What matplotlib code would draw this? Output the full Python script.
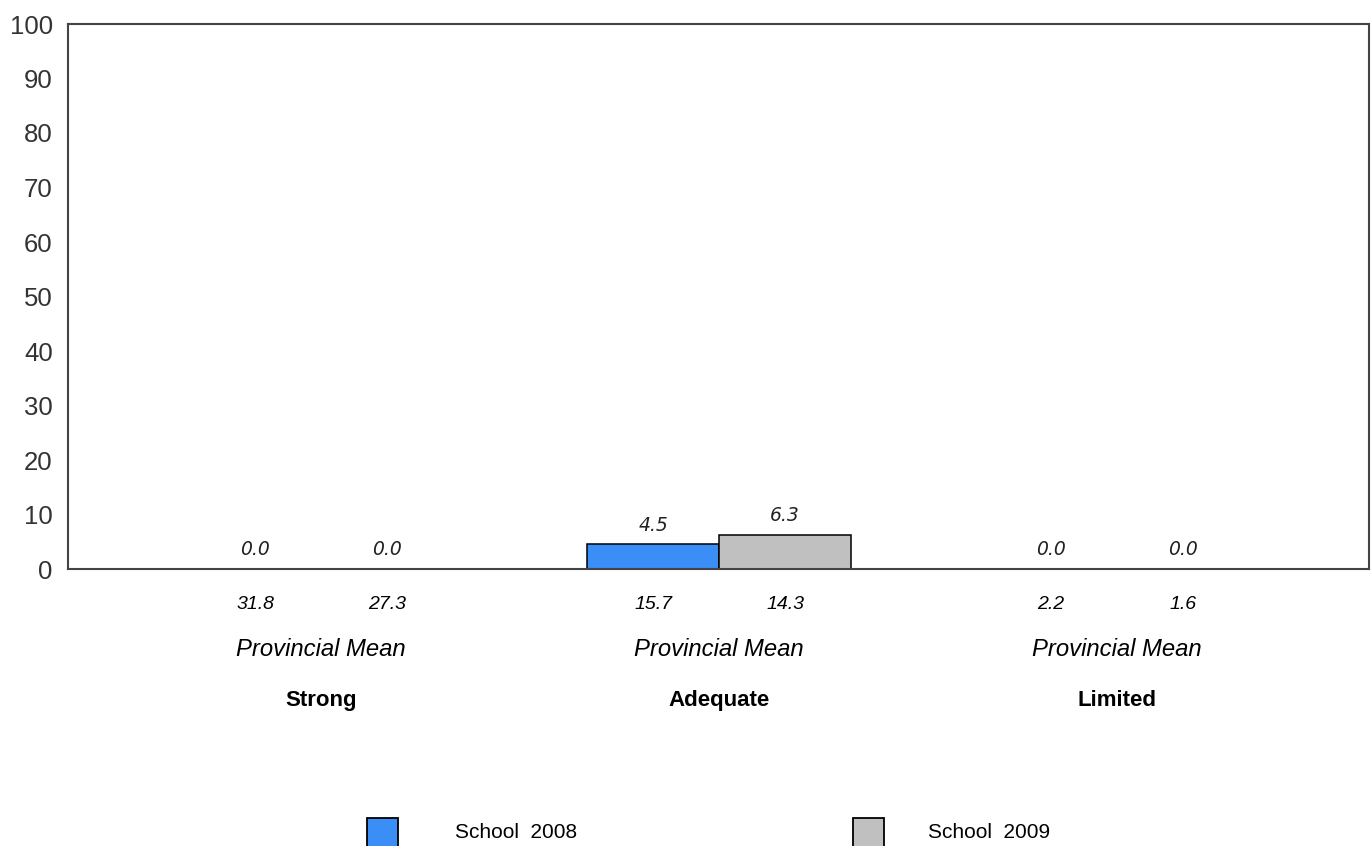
import matplotlib
matplotlib.use("Agg")
import matplotlib.pyplot as plt
from matplotlib.patches import Rectangle

categories = ["Strong", "Adequate", "Limited"]
school_2008 = [0.0, 4.5, 0.0]
school_2009 = [0.0, 6.3, 0.0]
prov_2008 = [31.8, 15.7, 2.2]
prov_2009 = [27.3, 14.3, 1.6]
series_names = ["School  2008", "School  2009"]
yticks = [0, 10, 20, 30, 40, 50, 60, 70, 80, 90, 100]

c_blue = "#3a8ef6"
c_gray = "#c0c0c0"

W, H = 1372, 846
fig = plt.figure(figsize=(W / 100, H / 100), dpi=100)
ax = fig.add_axes([68 / W, (H - 569) / H, (1369 - 68) / W, (569 - 24) / H])

bw = 0.332
x = list(range(len(categories)))
ax.bar([i - bw / 2 for i in x], school_2008, width=bw, color=c_blue,
       edgecolor="black", linewidth=1.1, zorder=2)
ax.bar([i + bw / 2 for i in x], school_2009, width=bw, color=c_gray,
       edgecolor="black", linewidth=1.1, zorder=2)

ax.set_xlim(-0.636, 2.633)
ax.set_ylim(0, 100)
ax.set_yticks(yticks)
ax.set_yticklabels([str(v) for v in yticks], fontsize=18.5,
                   family="Liberation Sans", color="#333333")
ax.tick_params(axis="y", length=0, pad=11)
ax.set_xticks([])
for s in ax.spines.values():
    s.set_color("#444444")
    s.set_linewidth(1.5)
    s.set_zorder(3)

# value labels above bars
for i in x:
    for off, v in ((-bw / 2, school_2008[i]), (bw / 2, school_2009[i])):
        ax.annotate(f"{v:.1f}", xy=(i + off, v), xytext=(0, 13.7),
                    textcoords="offset points", ha="center", va="center",
                    fontsize=13.5, style="italic", family="DejaVu Sans",
                    color="#222222")

# provincial means and category labels below
for i in x:
    for off, v in ((-bw / 2, prov_2008[i]), (bw / 2, prov_2009[i])):
        ax.annotate(f"{v:.1f}", xy=(i + off, 0), xycoords=("data", "axes fraction"),
                    xytext=(0, -25.2), textcoords="offset points",
                    ha="center", va="center", fontsize=14, style="italic",
                    family="Liberation Sans", color="black")
    ax.annotate("Provincial Mean", xy=(i, 0), xycoords=("data", "axes fraction"),
                xytext=(0, -57.6), textcoords="offset points",
                ha="center", va="center", fontsize=17.2, style="italic",
                family="Liberation Sans", color="black")
    ax.annotate(categories[i], xy=(i, 0), xycoords=("data", "axes fraction"),
                xytext=(0, -95), textcoords="offset points",
                ha="center", va="center", fontsize=16, weight="bold",
                family="Liberation Sans", color="black")

# legend
for (x0, col, name, tx) in ((367, c_blue, series_names[0], 455),
                             (853, c_gray, series_names[1], 928)):
    fig.patches.append(Rectangle((x0 / W, (H - 848) / H), 31 / W, 30 / H,
                                 transform=fig.transFigure, facecolor=col,
                                 edgecolor="black", linewidth=1.3))
    fig.text(tx / W, (H - 832) / H, name, ha="left", va="center",
             fontsize=15, family="Liberation Sans", color="black")

fig.savefig("out.png", dpi=100)
